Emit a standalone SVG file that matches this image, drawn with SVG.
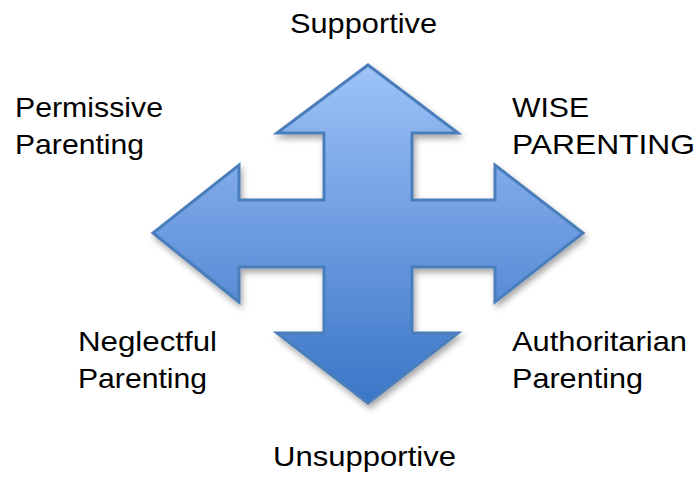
<svg xmlns="http://www.w3.org/2000/svg" width="698" height="500" viewBox="0 0 698 500">
  <style>
    .lbl { font-family: "Liberation Sans", Arial, sans-serif; font-size: 28px; fill: #000; }
  </style>
  <defs>
    <linearGradient id="g" x1="0" y1="0" x2="0" y2="1">
      <stop offset="0" stop-color="#9DC3F8"/>
      <stop offset="0.5" stop-color="#6C9BE0"/>
      <stop offset="1" stop-color="#3A76C6"/>
    </linearGradient>
    <filter id="sh" x="-10%" y="-10%" width="125%" height="125%">
      <feDropShadow dx="2" dy="4" stdDeviation="3" flood-color="#000" flood-opacity="0.35"/>
    </filter>
  </defs>
  <g id="arrow">
    <path d="M368,65 L458,133 L412,133 L412,200 L495,200 L495,165 L583,233 L495,302 L495,267 L412,267 L412,333 L458,333 L368,403 L277,333 L324,333 L324,267 L239,267 L239,302 L153,233 L239,165 L239,200 L324,200 L324,133 L277,133 Z" fill="url(#g)" stroke="#4A7EBB" stroke-width="3" stroke-linejoin="miter" filter="url(#sh)"/>
  </g>
  <g id="supportive"><text class="lbl" x="290" y="33" textLength="147" lengthAdjust="spacingAndGlyphs">Supportive</text></g>
  <g id="permissive">
    <text class="lbl" x="15" y="116.5" textLength="148" lengthAdjust="spacingAndGlyphs">Permissive</text>
    <text class="lbl" x="15" y="153.5" textLength="129" lengthAdjust="spacingAndGlyphs">Parenting</text>
  </g>
  <g id="wise">
    <text class="lbl" x="512" y="116.5" textLength="77" lengthAdjust="spacingAndGlyphs">WISE</text>
    <text class="lbl" x="512" y="153.5" textLength="183" lengthAdjust="spacingAndGlyphs">PARENTING</text>
  </g>
  <g id="neglectful">
    <text class="lbl" x="78" y="351" textLength="139" lengthAdjust="spacingAndGlyphs">Neglectful</text>
    <text class="lbl" x="78" y="388" textLength="129" lengthAdjust="spacingAndGlyphs">Parenting</text>
  </g>
  <g id="authoritarian">
    <text class="lbl" x="512" y="351" textLength="175" lengthAdjust="spacingAndGlyphs">Authoritarian</text>
    <text class="lbl" x="512" y="388" textLength="131" lengthAdjust="spacingAndGlyphs">Parenting</text>
  </g>
  <g id="unsupportive"><text class="lbl" x="273" y="466" textLength="183" lengthAdjust="spacingAndGlyphs">Unsupportive</text></g>
</svg>
